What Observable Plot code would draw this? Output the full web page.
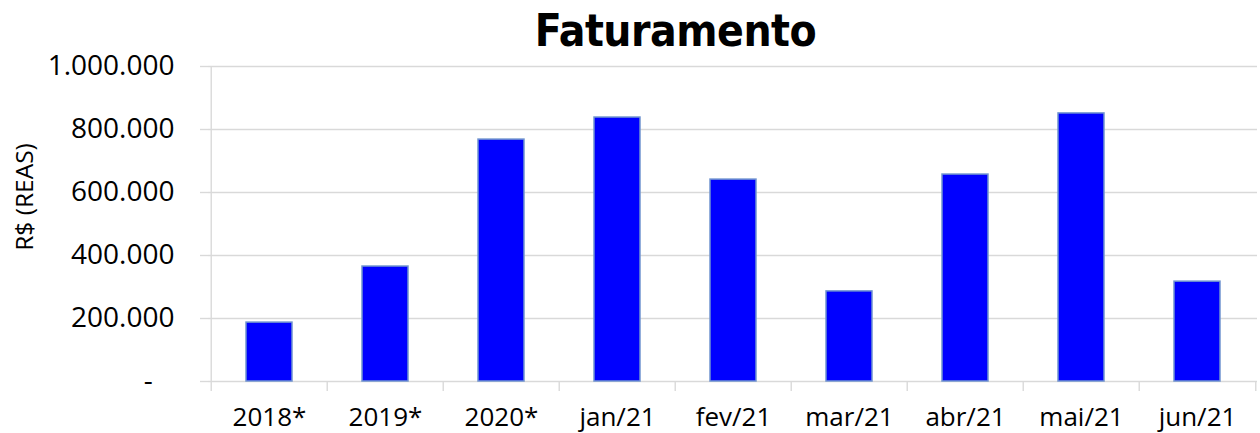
<!DOCTYPE html>
<html><head><meta charset="utf-8">
<script src="https://cdn.jsdelivr.net/npm/d3@7"></script>
<script src="https://cdn.jsdelivr.net/npm/@observablehq/plot@0.6"></script>
<style>
body{margin:0;background:#fff;width:1260px;height:433px;overflow:hidden;position:relative;}
#title{position:absolute;left:0;top:0;width:1260px;height:60px;box-sizing:border-box;padding-left:91px;text-align:center;
  font-family:"DejaVu Sans Condensed","DejaVu Sans",sans-serif;font-weight:bold;font-size:44px;
  letter-spacing:-0.5px;line-height:62px;color:#000;}
#ylabel{position:absolute;left:23px;top:197px;transform:translate(-50%,-50%) rotate(-90deg);
  font-family:"Open Sans",sans-serif;font-size:24.5px;color:#000;white-space:nowrap;}
#chart svg{display:block;}
</style></head><body>
<div id="chart"></div>
<div id="title"></div>
<div id="ylabel"></div>
<script>
const title = "Faturamento";
const yLabel = "R$ (REAS)";
const categories = ["2018*","2019*","2020*","jan/21","fev/21","mar/21","abr/21","mai/21","jun/21"];
const values = [187000, 365000, 768000, 838000, 641000, 286000, 657000, 851000, 317000];
const yTicks = [0, 200000, 400000, 600000, 800000, 1000000];

document.getElementById("title").textContent = title;
document.getElementById("ylabel").textContent = yLabel;

const data = categories.map((c, i) => ({category: c, value: values[i]}));
const W = 1260, H = 433, mL = 208, mR = 3, mT = 66, mB = 52;
const step = (W - mL - mR) / categories.length;
const grid = "#d9d9d9";
const font = "Open Sans";
const fmt = d => d === 0 ? "-\u00a0\u00a0\u00a0" : d3.format(",")(d).replace(/,/g, ".");

const chart = Plot.plot({
  width: W, height: H,
  marginLeft: mL, marginRight: mR, marginTop: mT, marginBottom: mB,
  style: {fontFamily: font, background: "#fff", color: "#000"},
  x: {type: "band", domain: categories, padding: 0},
  y: {domain: [0, 1000000]},
  marks: [
    Plot.gridY(yTicks, {stroke: grid, strokeOpacity: 1, strokeWidth: 1.4}),
    Plot.axisY(yTicks, {tickSize: 8, text: null, stroke: grid, strokeWidth: 1.4, label: null}),
    Plot.axisY(yTicks, {tickSize: 0, tickPadding: 34, tickFormat: fmt, fontSize: 28, label: null, fill: "#000"}),
    Plot.ruleX([categories[0]], {dx: -step / 2, insetBottom: -10, stroke: grid, strokeWidth: 1.4}),
    Plot.ruleX(categories.slice(1), {dx: -step / 2, insetTop: H - mT - mB, insetBottom: -10, stroke: grid, strokeWidth: 1.4}),
    Plot.ruleX([categories[categories.length - 1]], {dx: step / 2, insetTop: H - mT - mB, insetBottom: -10, stroke: grid, strokeWidth: 1.4}),
    Plot.barY(data, {x: "category", y: "value", fill: "#0000ff", stroke: "#7094cf", strokeWidth: 1.5,
      insetLeft: 35, insetRight: 35}),
    Plot.axisX({tickSize: 0, tickPadding: 26, fontSize: 26, label: null, fill: "#000"})
  ]
});
document.getElementById("chart").appendChild(chart);
</script>
</body></html>
